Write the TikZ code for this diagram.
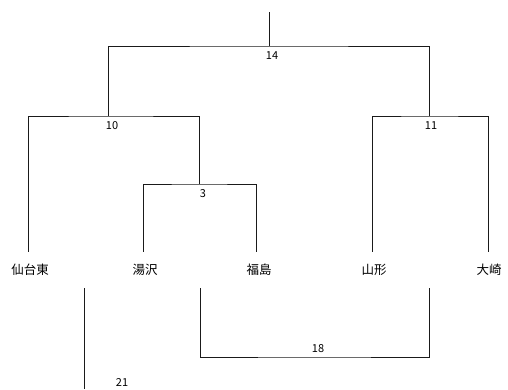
\documentclass[tikz,border=0pt]{standalone}
\usepackage{fontspec}
\newfontfamily\jpfont{Noto Sans CJK JP}
\usepackage{tikz}
\usetikzlibrary{positioning}
\definecolor{bInk}{HTML}{1A1A1A}

\begin{document}
\begin{tikzpicture}[x=1pt, y=-1pt,
        team/.style={font=\jpfont\fontsize{12.5}{14}\selectfont, minimum height=36pt, inner sep=0pt},
        score/.style={font=\jpfont\fontsize{11}{12}\selectfont, inner sep=0pt},
        bline/.style={line width=0.9pt, bInk}]
      \useasboundingbox (0,0) rectangle (508,389);
      % teams
      \node[team] (sendai) at (30,270) {仙台東};
      \node[team] (yuzawa) at (145,270) {湯沢};
      \node[team] (fukushima) at (259,270) {福島};
      \node[team] (yamagata) at (374,270) {山形};
      \node[team] (osaki) at (489,270) {大崎};
      % joins
      \coordinate (m3) at (199,184);
      \coordinate (m10) at (108,116);
      \coordinate (m11) at (429,116);
      \coordinate (m14) at (269,46);
      \coordinate (top) at (269,12);
      \coordinate (b18l) at (200,288);
      \coordinate (b18r) at (429,288);
      \coordinate (m18) at (314,357);
      \coordinate (b21) at (84,288);
      \coordinate (e21) at (84,389);
      \draw[bline] ([xshift=-2pt]yuzawa.north) |- (m3) -| ([xshift=-3pt]fukushima.north);
      \draw[bline] ([xshift=-2pt]sendai.north) |- (m10) -| (m3);
      \draw[bline] ([xshift=-2pt]yamagata.north) |- (m11) -| ([xshift=-1pt]osaki.north);
      \draw[bline] (m10) |- (m14) -| (m11);
      \draw[bline] (m14) -- (top);
      \draw[bline] (b18l) |- (m18) -| (b18r);
      \draw[bline] (b21) -- (e21);
      % scores
      \node[score] (s3) at (203,194) {3};
      \node[score] (s10) at (112,126) {10};
      \node[score] (s11) at (431,126) {11};
      \node[score] (s14) at (272,56) {14};
      \node[score] (s18) at (318,349) {18};
      \node[score] (s21) at (122,382) {21};
    \end{tikzpicture}
\end{document}
